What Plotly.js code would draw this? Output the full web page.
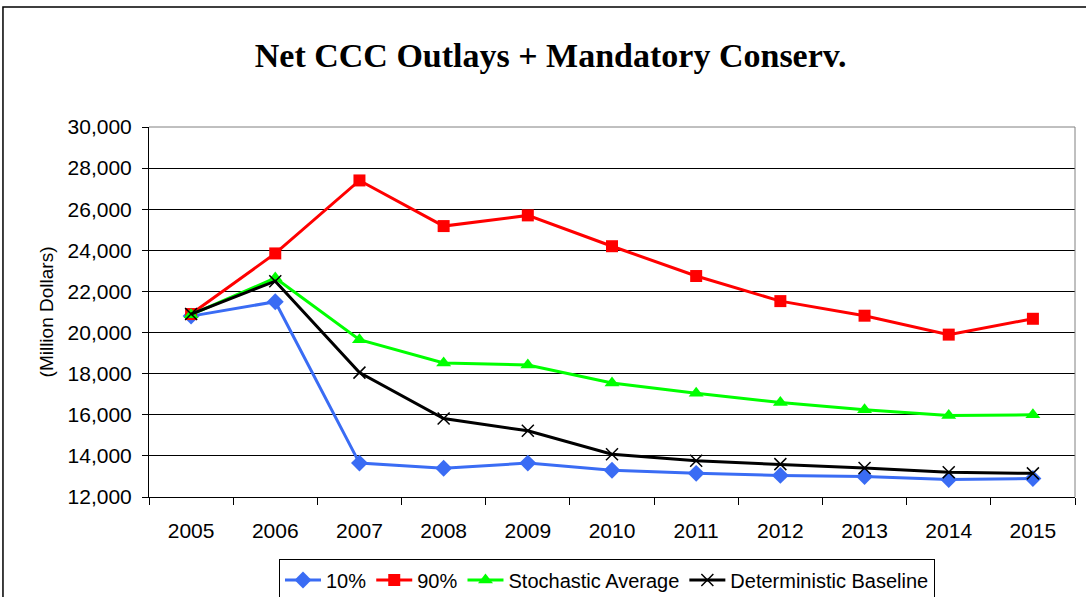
<!DOCTYPE html>
<html>
<head>
<meta charset="utf-8">
<script src="https://cdn.plot.ly/plotly-3.0.1.min.js"></script>
<style>html,body{margin:0;padding:0;background:#fff;}#chart{width:1086px;height:597px;}</style>
</head>
<body>
<div id="chart"></div>
<script>
const years = ["2005","2006","2007","2008","2009","2010","2011","2012","2013","2014","2015"];
const p10 = [20800, 21500, 13650, 13400, 13650, 13300, 13150, 13050, 13000, 12850, 12900];
const p90 = [20900, 23850, 27400, 25180, 25700, 24200, 22750, 21530, 20820, 19900, 20670];
const stochAvg = [20870, 22650, 19650, 18520, 18420, 17550, 17050, 16600, 16250, 15960, 16000];
const detBase = [20900, 22500, 18050, 15820, 15220, 14080, 13760, 13600, 13410, 13200, 13150];
const yTicks = [12000, 14000, 16000, 18000, 20000, 22000, 24000, 26000, 28000, 30000];

const font = "Liberation Sans, Arial, sans-serif";
const traces = [
  {x: years, y: p10, name: "10%", mode: "lines+markers", line: {color: "#3A6CF4", width: 3}, marker: {symbol: "diamond", size: 13, color: "#3A6CF4"}},
  {x: years, y: p90, name: "90%", mode: "lines+markers", line: {color: "#FF0000", width: 3}, marker: {symbol: "square", size: 12, color: "#FF0000"}},
  {x: years, y: stochAvg, name: "Stochastic Average", mode: "lines+markers", line: {color: "#00FF00", width: 3}, marker: {symbol: "triangle-up", size: 13, color: "#00FF00"}},
  {x: years, y: detBase, name: "Deterministic Baseline", mode: "lines+markers", line: {color: "#000000", width: 3}, marker: {symbol: "x-thin-open", size: 12, color: "#000000", line: {width: 1.5, color: "#000000"}}}
];

const layout = {
  width: 1086, height: 597,
  margin: {l: 149, r: 11, t: 127, b: 100, autoexpand: false},
  paper_bgcolor: "#fff", plot_bgcolor: "#fff",
  showlegend: true,
  title: {text: "<b>Net CCC Outlays + Mandatory Conserv.</b>", font: {family: "Liberation Serif, Times New Roman, serif", size: 34, color: "#000"}, x: 0.507, xanchor: "center", y: 0.908, yanchor: "middle"},
  xaxis: {
    type: "category", range: [-0.5, 10.5], showgrid: false, tickson: "boundaries",
    ticks: "outside", ticklen: 7, tickcolor: "#000", showline: true, linecolor: "#000", linewidth: 1,
    tickfont: {family: font, size: 21, color: "#000"}, ticklabelstandoff: 15, zeroline: false, automargin: false
  },
  yaxis: {
    range: [12000, 30000], tickvals: yTicks, tickformat: ",d", showgrid: true, gridcolor: "#000", gridwidth: 1,
    ticks: "outside", ticklen: 6, tickcolor: "#000", showline: true, linecolor: "#000", linewidth: 1,
    tickfont: {family: font, size: 21, color: "#000"}, ticklabelstandoff: 6, zeroline: false, automargin: false,
    title: {text: "(Million Dollars)", font: {family: font, size: 19, color: "#000"}, standoff: 8}
  },
  legend: {
    orientation: "h", x: 0.4946, xanchor: "center", y: -0.2243, yanchor: "middle",
    bordercolor: "#000", borderwidth: 1, bgcolor: "#fff",
    font: {family: font, size: 20, color: "#000"}, itemwidth: 36, tracegroupgap: 0
  },
  shapes: [
    {type: "line", xref: "paper", yref: "paper", x0: 0, x1: 1, y0: 1, y1: 1, line: {color: "#808080", width: 1}},
    {type: "line", xref: "paper", yref: "paper", x0: 1, x1: 1, y0: 0, y1: 1, line: {color: "#808080", width: 1}},
    {type: "rect", xref: "paper", yref: "paper", x0: -0.1577, x1: 1.05, y0: -0.3, y1: 1.3243, line: {color: "#000", width: 1.5}, fillcolor: "rgba(0,0,0,0)"}
  ]
};

Plotly.newPlot("chart", traces, layout, {displayModeBar: false, staticPlot: true});
</script>
</body>
</html>
